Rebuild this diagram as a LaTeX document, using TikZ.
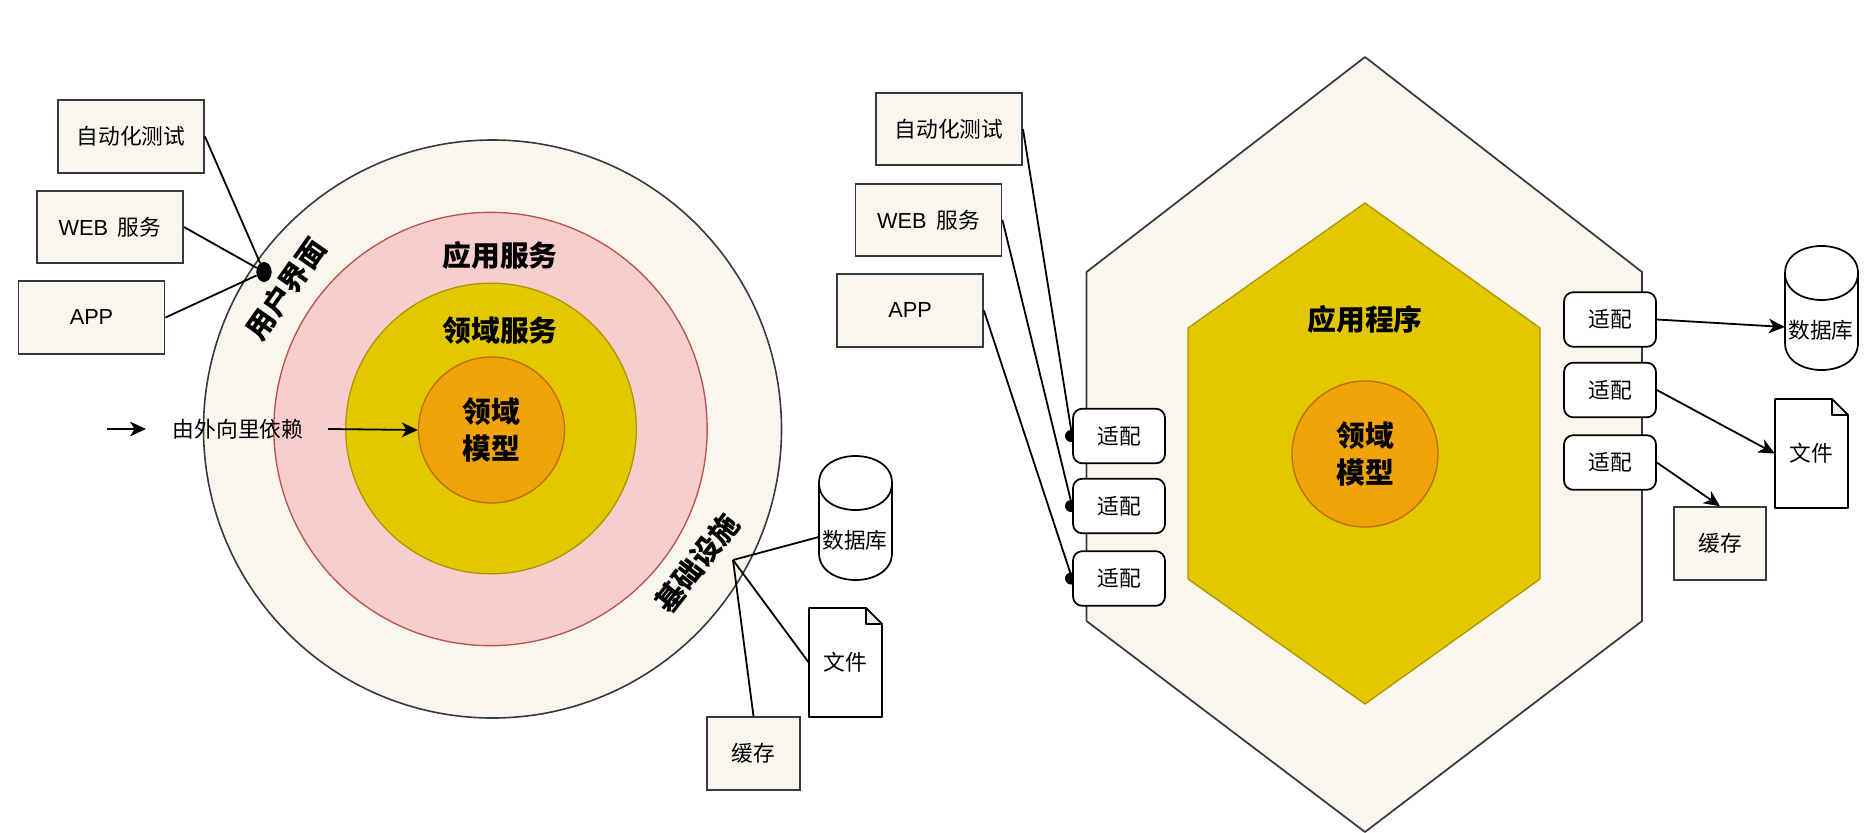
\documentclass[tikz,border=0pt]{standalone}
\usepackage{fontspec}
\setmainfont{Liberation Sans}
\newfontfamily\cjk{Noto Sans CJK SC}
\usetikzlibrary{arrows.meta,shapes.geometric}
\AtBeginDocument{\lineskiplimit=-50pt\relax}
\definecolor{cream}{HTML}{F9F7ED}
\definecolor{creamline}{HTML}{36393D}
\definecolor{pinkf}{HTML}{F8CECC}
\definecolor{pinkl}{HTML}{B85450}
\definecolor{yelf}{HTML}{E3C800}
\definecolor{yell}{HTML}{B09500}
\definecolor{oraf}{HTML}{F0A30A}
\definecolor{oral}{HTML}{BD7000}
\tikzset{
  x=0.75pt,y=-0.75pt,
  txt/.style={font=\cjk\fontsize{16.3pt}{18pt}\selectfont,inner sep=0pt},
  big/.style={font=\cjk\bfseries\fontsize{21.6pt}{28pt}\selectfont,inner sep=0pt,align=center},
  creambox/.style={txt,draw=creamline,fill=cream,line width=1.4pt,minimum width=109.5pt,minimum height=54.5pt},
  adapter/.style={txt,draw=black,fill=white,line width=1.3pt,rounded corners=7pt,minimum width=69pt,minimum height=41pt},
  conn/.style={draw=black,line width=1.35pt},
  arr/.style={conn,-{Stealth[length=12pt,width=11pt,inset=3.5pt]}},
  dotmark/.style={ellipse,fill=black,inner sep=0pt},
  ring/.style={circle,inner sep=0pt,line width=1pt},
  shapeline/.style={draw=black,line width=1.3pt,line join=round},
  holder/.style={txt,minimum width=54.75pt,inner sep=0pt}
}
% cylinder: name, left, top
\newcommand{\dbcyl}[3]{%
  \begin{scope}[shift={(#2,#3)}]
    \draw[shapeline,fill=white] (0,27) .. controls (0,-9) and (73,-9) .. (73,27) -- (73,97) .. controls (73,133) and (0,133) .. (0,97) -- cycle;
    \draw[shapeline] (0,27) .. controls (0,63) and (73,63) .. (73,27);
    \node[holder,minimum height=30pt] (#1) at (36.5,81) {};
    \node[txt] (#1t) at (36,84) {数据库};
  \end{scope}}
% file: name, left, top
\newcommand{\docfile}[3]{%
  \begin{scope}[shift={(#2,#3)}]
    \draw[shapeline,fill=white] (0,0) -- (57,0) -- (73,16) -- (73,109) -- (0,109) -- cycle;
    \draw[shapeline,fill=black!7] (57,0) -- (57,16) -- (73,16) -- cycle;
    \node[holder,minimum height=81.75pt] (#1) at (36.5,54.5) {文件};
  \end{scope}}
\begin{document}
\begin{tikzpicture}
\useasboundingbox (0,0) rectangle (1872,832);
\fill[white] (0,0) rectangle (1872,832);

% left onion
\node[ring,draw=creamline,line width=1.2pt,fill=cream,minimum size=433.5pt] (outer) at (492.5,429) {};
\node[ring,draw=pinkl,fill=pinkf,minimum size=325pt] (app) at (490.5,429) {};
\node[ring,draw=yell,fill=yelf,minimum size=218pt] (dom) at (491,428.5) {};
\node[ring,draw=oral,fill=oraf,minimum size=109.5pt,big] (core) at (491.5,430) {领域\\模型};
\node[big] (t1) at (500,255) {应用服务};
\node[big] (t2) at (500,331) {领域服务};
\node[big,rotate=55] (t3) at (286,289) {用户界面};
\node[big,rotate=52] (t4) at (697,563) {基础设施};

\node[creambox] (la) at (131,136.5) {自动化测试};
\node[creambox] (lb) at (110,227) {{\fontspec{Liberation Sans}WEB}\hspace{0.45em}服务};
\node[creambox] (lc) at (91.5,317.5) {{\fontspec{Liberation Sans}APP}};
\node[dotmark,minimum width=11.5pt,minimum height=15pt] (hubu) at (264,272) {};
\draw[conn] (la.east) -- (hubu);
\draw[conn] (lb.east) -- (hubu);
\draw[conn] (lc.east) -- (hubu);

\coordinate (ar1) at (107,429);
\node[txt] (dep) at (238,429) {由外向里依赖};
\coordinate (ar2) at (146,429);
\draw[arr] (ar1) -- (ar2);
\coordinate (ar3) at (328,429);
\draw[arr] (ar3) -- (core.west);

\dbcyl{ldb}{819}{456}
\docfile{lfile}{809}{608}
\node[creambox,minimum width=69.5pt] (lcache) at (753.5,753.5) {缓存};
\coordinate (hub) at (733,560);
\draw[conn] (ldb.west) -- (hub);
\draw[conn] (lfile.west) -- (hub);
\draw[conn] (lcache.north) -- (hub);

% right hexagons
\draw[creamline,line width=1.3pt,fill=cream,line join=round] (1365,57) -- (1642,272) -- (1642,621) -- (1365,832) -- (1086.5,621) -- (1086.5,272) -- cycle;
\draw[yell,line width=1pt,fill=yelf,line join=round] (1365,203) -- (1540,328) -- (1540,579) -- (1365,704) -- (1188,579) -- (1188,328) -- cycle;
\node[big] (t5) at (1365,319) {应用程序};
\node[ring,draw=oral,fill=oraf,minimum size=109.5pt,big] (core2) at (1365,454) {领域\\模型};

\node[creambox] (ra) at (949,129) {自动化测试};
\node[creambox] (rb) at (928.5,220) {{\fontspec{Liberation Sans}WEB}\hspace{0.45em}服务};
\node[creambox] (rc) at (910,310.5) {{\fontspec{Liberation Sans}APP}};

\node[dotmark,minimum size=9pt] (d1) at (1071,436) {};
\node[dotmark,minimum size=9pt] (d2) at (1071,506) {};
\node[dotmark,minimum size=9pt] (d3) at (1071,578.5) {};
\node[adapter] (a1) at (1119,436) {适配};
\node[adapter] (a2) at (1119,506) {适配};
\node[adapter] (a3) at (1119,578.5) {适配};
\draw[conn] (ra.east) -- (a1.west);
\draw[conn] (rb.east) -- (a2.west);
\draw[conn] (rc.east) -- (a3.west);

\node[adapter] (a4) at (1610,319.5) {适配};
\node[adapter] (a5) at (1610,390) {适配};
\node[adapter] (a6) at (1610,462.5) {适配};
\dbcyl{rdb}{1785}{246}
\docfile{rfile}{1775}{399}
\node[creambox,minimum width=69.5pt] (rcache) at (1720,543.5) {缓存};
\draw[arr] (a4.east) -- (rdb.west);
\draw[arr] (a5.east) -- (rfile.west);
\draw[arr] (a6.east) -- (rcache.north);
\end{tikzpicture}
\end{document}
